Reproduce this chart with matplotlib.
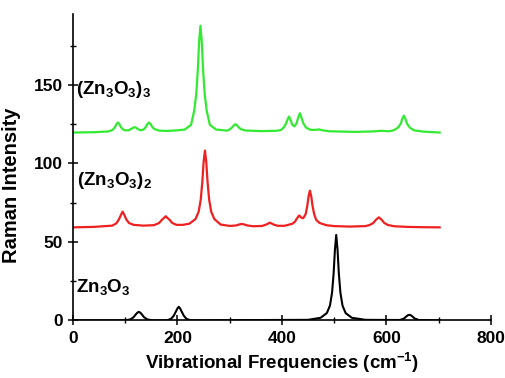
import matplotlib
matplotlib.use("Agg")
import matplotlib.pyplot as plt
from matplotlib.ticker import MultipleLocator

# Traced spectra (x in cm-1, y in arbitrary Raman intensity, stacked with offsets)
zn9_x = [0, 40, 68, 76, 80, 83, 86, 89, 92, 96, 100, 106, 112, 115, 118, 121, 124, 130,
         135, 139, 142, 145.5, 149, 152, 156, 165, 180, 200, 214, 226, 232, 236, 239,
         241.5, 244, 246.5, 249, 252, 256, 262, 274, 295, 301, 305, 308, 311, 314, 317,
         321, 330, 360, 390, 398, 404, 408, 411, 413.5, 416, 420, 424, 428, 431, 434.4,
         437.5, 441, 446, 455, 465, 471, 478, 490, 540, 575, 590, 605, 614, 622, 627.5,
         630.5, 633.5, 636.5, 639.5, 645, 653, 670, 702]
zn9_y = [119.6, 119.8, 120.3, 121.3, 122.9, 124.8, 126.0, 124.8, 122.9, 121.5, 121.0,
         121.0, 122.0, 122.6, 123.0, 122.6, 121.8, 121.0, 121.5, 123.0, 124.8, 126.0,
         124.8, 123.0, 121.8, 120.8, 120.6, 121.0, 121.5, 124.5, 133.5, 144.3, 159.9,
         177.6, 187.6, 177.6, 159.9, 144.3, 133.5, 124.5, 121.5, 120.8, 121.8, 123.0,
         124.2, 124.9, 124.2, 123.0, 121.8, 120.9, 120.5, 120.7, 121.2, 123.0, 125.5,
         128.0, 129.8, 128.0, 124.5, 123.5, 125.5, 129.0, 131.9, 129.0, 125.5, 122.8,
         121.3, 121.3, 121.6, 121.0, 120.4, 120.0, 120.3, 120.7, 120.4, 121.0, 122.7,
         125.2, 128.3, 130.3, 128.3, 125.2, 122.7, 121.0, 120.2, 119.6]

zn6_x = [0, 40, 75, 83, 88, 92, 95, 98, 102, 107, 116, 135, 155, 165, 169.5, 174.5, 177.5,
         180.5, 185.5, 190, 198, 210, 222.6, 234.6, 240.6, 244.6, 247.6, 250.1, 252.6,
         255.1, 257.6, 260.6, 264.6, 270.6, 282.6, 300, 312, 318, 323, 328, 334, 345, 362,
         370, 377, 384, 392, 405, 420, 425, 429, 433, 437, 440, 442, 445.6, 448.6, 451.1,
         453.6, 456.1, 458.6, 461.6, 465.6, 472, 485, 500, 530, 560, 568, 575, 580, 585.6,
         591, 596, 603, 615, 640, 670, 702]
zn6_y = [59.2, 59.5, 60.3, 61.8, 64.3, 67.3, 69.2, 67.3, 64.3, 62.0, 60.8, 60.3, 60.6,
         62.0, 63.8, 65.3, 66.3, 65.3, 63.8, 62.0, 60.8, 60.8, 61.5, 64.5, 69.2, 77.0,
         88.2, 101.0, 108.1, 101.0, 88.2, 77.0, 69.2, 64.5, 61.0, 60.1, 60.4, 61.0, 61.4,
         61.0, 60.4, 59.9, 60.1, 61.0, 62.2, 61.0, 60.2, 60.2, 61.5, 62.8, 65.0, 66.8,
         65.5, 65.0, 65.6, 67.8, 73.0, 79.1, 82.6, 79.1, 73.0, 67.8, 64.0, 62.0, 60.6,
         60.0, 59.7, 60.0, 60.7, 62.0, 64.0, 65.6, 64.0, 62.0, 60.7, 59.9, 59.5, 59.3, 59.2]

zn3_x = [0, 100, 110, 116, 120, 123, 126, 129, 132, 136, 142, 152, 180, 188, 193, 197, 200,
         202.5, 205, 208, 212, 217, 225, 450, 474, 486, 492, 496, 499, 501.5, 504, 506.5,
         509, 512, 516, 522, 534, 560, 626, 634, 638, 641, 644, 647, 650, 654, 662, 702]
zn3_y = [0, 0, 0.6, 2.0, 3.7, 4.8, 5.4, 4.8, 3.7, 2.0, 0.6, 0, 0, 1.0, 3.0, 5.6, 7.6, 8.6,
         7.6, 5.6, 3.0, 1.0, 0, 0.3, 1.6, 4.6, 9.4, 17.6, 29.8, 45.0, 54.4, 45.0, 29.8,
         17.6, 9.4, 4.6, 1.6, 0.3, 0.2, 1.2, 2.4, 3.2, 3.5, 3.2, 2.4, 1.2, 0.2, 0]

labels = [r"(Zn$_3$O$_3$)$_3$", r"(Zn$_3$O$_3$)$_2$", r"Zn$_3$O$_3$"]

plt.rcParams["font.family"] = ["Liberation Sans", "DejaVu Sans"]
plt.rcParams["font.weight"] = "bold"
plt.rcParams["mathtext.fontset"] = "custom"
plt.rcParams["mathtext.rm"] = "Liberation Sans:bold"
plt.rcParams["mathtext.it"] = "Liberation Sans:bold"
plt.rcParams["mathtext.bf"] = "Liberation Sans:bold"
plt.rcParams["mathtext.default"] = "rm"

fig = plt.figure(figsize=(5.06, 3.78), dpi=100)
ax = fig.add_axes([0.1443, 0.1526, 0.8257, 0.810])

ax.plot(zn9_x, zn9_y, color="#33ea33", linewidth=1.6)
ax.plot(zn6_x, zn6_y, color="#ee2020", linewidth=1.6)
ax.plot(zn3_x, zn3_y, color="black", linewidth=1.5)

ax.text(6, 147, labels[0], fontsize=13.5, fontweight="bold", va="center", ha="left")
ax.text(8, 89, labels[1], fontsize=13.5, fontweight="bold", va="center", ha="left")
ax.text(6, 21, labels[2], fontsize=13.5, fontweight="bold", va="center", ha="left")

ax.set_xlim(0, 800)
ax.set_ylim(0, 195)
ax.xaxis.set_major_locator(MultipleLocator(200))
ax.xaxis.set_minor_locator(MultipleLocator(100))
ax.yaxis.set_major_locator(MultipleLocator(50))
ax.yaxis.set_minor_locator(MultipleLocator(25))
ax.tick_params(which="major", direction="inout", length=7, width=1.1, labelsize=12.5, pad=4)
ax.tick_params(which="minor", direction="inout", length=5, width=1.0)
for lab in ax.get_xticklabels() + ax.get_yticklabels():
    lab.set_fontweight("bold")

ax.spines["top"].set_visible(False)
ax.spines["right"].set_visible(False)
ax.spines["left"].set_linewidth(1.2)
ax.spines["bottom"].set_linewidth(1.2)

ax.set_xlabel(r"Vibrational Frequencies (cm$^{-1}$)", fontsize=13.5, fontweight="bold", labelpad=4)
ax.set_ylabel("Raman Intensity", fontsize=14.5, fontweight="bold")
ax.yaxis.set_label_coords(-0.125, 0.44)

fig.savefig("out.png", dpi=100)
